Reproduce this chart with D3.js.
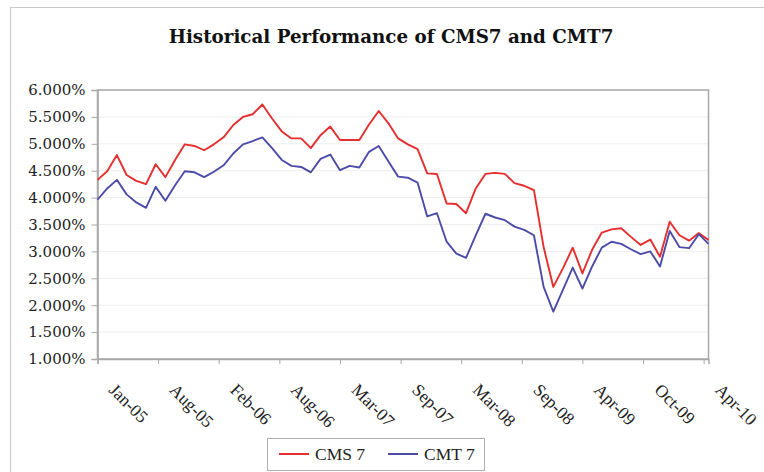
<!DOCTYPE html>
<html>
<head>
<meta charset="utf-8">
<script src="https://cdnjs.cloudflare.com/ajax/libs/d3/7.8.5/d3.min.js"></script>
<style>
  body { margin: 0; background: #fff; }
  svg { display: block; }
</style>
</head>
<body>
<svg id="chart" width="764" height="472"></svg>
<script>
// monthly fixings, Jan-05 .. Apr-10
var cms7 = [4.33, 4.49, 4.79, 4.42, 4.31, 4.25, 4.62, 4.38, 4.70, 4.99, 4.96, 4.88, 4.99,
            5.12, 5.35, 5.50, 5.55, 5.73, 5.47, 5.23, 5.10, 5.10, 4.92, 5.16, 5.32, 5.07,
            5.07, 5.07, 5.36, 5.61, 5.38, 5.10, 4.99, 4.90, 4.45, 4.44, 3.89, 3.88, 3.71,
            4.17, 4.44, 4.46, 4.44, 4.27, 4.22, 4.14, 3.08, 2.34, 2.69, 3.07, 2.59, 3.03,
            3.35, 3.41, 3.43, 3.27, 3.12, 3.22, 2.90, 3.55, 3.30, 3.20, 3.34, 3.21];
var cmt7 = [3.96, 4.17, 4.33, 4.06, 3.91, 3.81, 4.20, 3.94, 4.23, 4.49, 4.47, 4.38, 4.48,
            4.60, 4.82, 4.99, 5.05, 5.12, 4.92, 4.70, 4.59, 4.57, 4.47, 4.72, 4.80, 4.51,
            4.59, 4.56, 4.85, 4.96, 4.67, 4.39, 4.37, 4.28, 3.65, 3.71, 3.18, 2.96, 2.88,
            3.30, 3.70, 3.63, 3.58, 3.46, 3.40, 3.30, 2.34, 1.88, 2.29, 2.70, 2.31, 2.72,
            3.07, 3.18, 3.14, 3.04, 2.95, 3.00, 2.72, 3.38, 3.08, 3.06, 3.32, 3.14];
var xLabels = ["Jan-05", "Aug-05", "Feb-06", "Aug-06", "Mar-07", "Sep-07",
               "Mar-08", "Sep-08", "Apr-09", "Oct-09", "Apr-10"];
var yTicks = [1, 1.5, 2, 2.5, 3, 3.5, 4, 4.5, 5, 5.5, 6];
var seriesNames = ["CMS 7", "CMT 7"];
var seriesColors = ["#e62e2e", "#4c4ca8"];

var svg = d3.select("#chart");

var margin = {left: 97.5, right: 708.5, top: 90, bottom: 359};

var x = d3.scaleLinear().domain([0, cms7.length - 1]).range([margin.left, margin.right]);
var y = d3.scaleLinear().domain([1, 6]).range([margin.bottom, margin.top]);

// outer chart frame
svg.append("rect")
    .attr("x", 10.5).attr("y", 7.5)
    .attr("width", 800).attr("height", 500)
    .attr("fill", "none")
    .attr("stroke", "#c8c8c8");

// title
svg.append("text")
    .attr("x", 391).attr("y", 43)
    .attr("text-anchor", "middle")
    .style("font-family", "'DejaVu Serif', serif")
    .style("font-weight", "bold")
    .style("font-size", "18.3px")
    .attr("fill", "#111")
    .text("Historical Performance of CMS7 and CMT7");

// gridlines
svg.append("g")
    .selectAll("line")
    .data(yTicks.slice(1))
    .enter()
    .append("line")
    .attr("x1", margin.left).attr("x2", margin.right)
    .attr("y1", function(d){ return y(d); })
    .attr("y2", function(d){ return y(d); })
    .attr("stroke", "#eeeeee");

// plot border
svg.append("rect")
    .attr("x", margin.left).attr("y", margin.top)
    .attr("width", margin.right - margin.left)
    .attr("height", margin.bottom - margin.top)
    .attr("fill", "none")
    .attr("stroke", "#a8a8a8")
    .attr("stroke-width", 1.5);

// y axis
var yAxis = svg.append("g")
    .attr("transform", "translate(" + margin.left + ",0)")
    .call(d3.axisLeft(y).tickValues(yTicks).tickSize(6).tickPadding(6)
        .tickFormat(function(d){ return d.toFixed(3) + "%"; }));
yAxis.select(".domain").attr("stroke", "#a8a8a8").attr("stroke-width", 1.5);
yAxis.selectAll(".tick line").attr("stroke", "#a8a8a8");
yAxis.selectAll("text")
    .style("font-family", "'DejaVu Serif', serif")
    .style("font-size", "15px")
    .attr("fill", "#222");

// x axis
var step = (cms7.length - 1) / 10.08;
var xAxis = svg.append("g")
    .attr("transform", "translate(0," + margin.bottom + ")")
    .call(d3.axisBottom(x).tickValues(d3.range(xLabels.length).map(function(k){ return k * step; }))
        .tickSize(5)
        .tickFormat(function(d, i){ return xLabels[i]; }));
xAxis.select(".domain").attr("stroke", "#a8a8a8").attr("stroke-width", 1.5);
xAxis.selectAll(".tick line").attr("stroke", "#a8a8a8");
xAxis.selectAll("text")
    .attr("y", 0).attr("dy", 0)
    .attr("transform", "translate(10,32) rotate(45)")
    .attr("text-anchor", "start")
    .style("font-family", "'Liberation Serif', serif")
    .style("font-size", "17.5px")
    .attr("fill", "#222");

// lines
var line = d3.line()
    .x(function(d, i){ return x(i); })
    .y(function(d){ return y(d); });

svg.append("g")
    .selectAll("path")
    .data([cms7, cmt7])
    .enter()
    .append("path")
    .attr("d", line)
    .attr("fill", "none")
    .attr("stroke", function(d, i){ return seriesColors[i]; })
    .attr("stroke-width", 1.9)
    .attr("stroke-linejoin", "round");

// legend
var legend = svg.append("g").attr("transform", "translate(267,438)");
legend.append("rect")
    .attr("x", 0.5).attr("y", 0.5)
    .attr("width", 217).attr("height", 32)
    .attr("fill", "#fff")
    .attr("stroke", "#b0b0b0");

var item = legend.selectAll(".item")
    .data(seriesNames)
    .enter()
    .append("g")
    .attr("class", "item")
    .attr("transform", function(d, i){ return "translate(" + (12 + i * 109) + ",16)"; });
item.append("line")
    .attr("x1", 0).attr("x2", 30)
    .attr("stroke", function(d, i){ return seriesColors[i]; })
    .attr("stroke-width", 2);
item.append("text")
    .attr("x", 36).attr("y", 6)
    .style("font-family", "'Liberation Serif', serif")
    .style("font-size", "17.5px")
    .attr("fill", "#222")
    .text(function(d){ return d; });
</script>
</body>
</html>
